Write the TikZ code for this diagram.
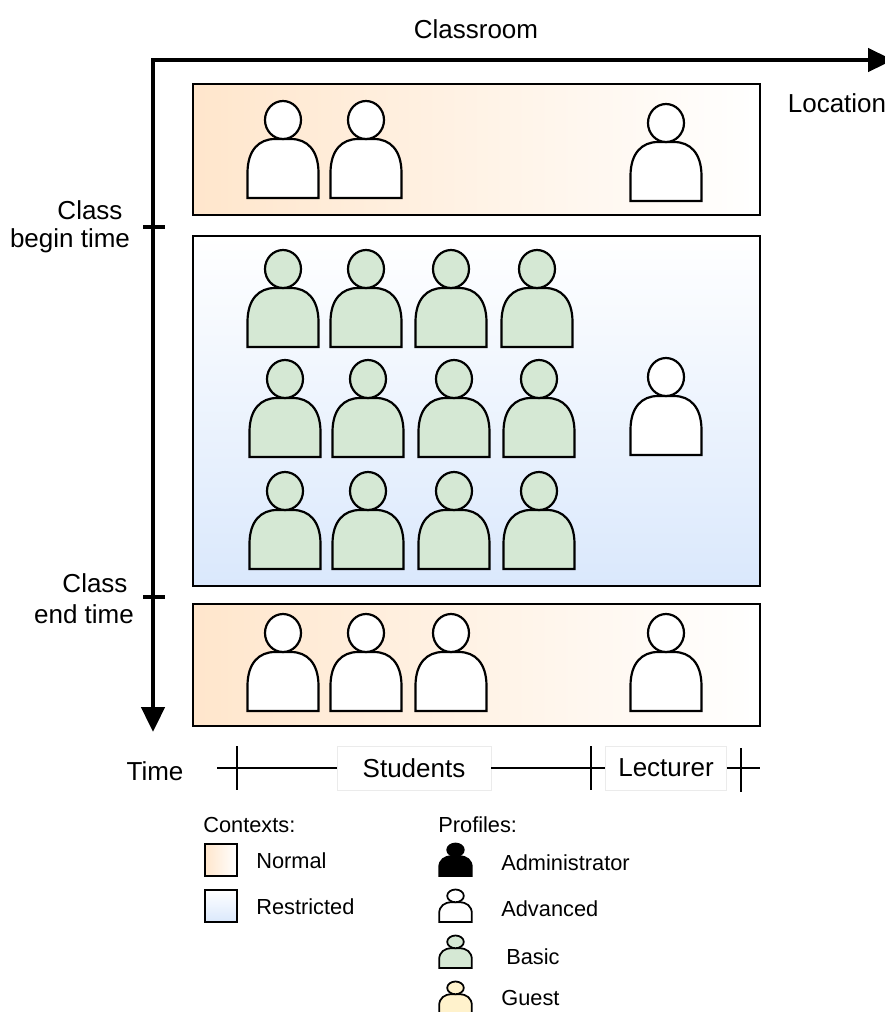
\documentclass[tikz,border=0pt]{standalone}
\usepackage{fontspec}
\setmainfont{Liberation Sans}
\usetikzlibrary{arrows.meta}
\definecolor{normalfill}{HTML}{FFE6CC}
\definecolor{restrictfill}{HTML}{DAE8FC}
\definecolor{basicfill}{HTML}{D5E8D4}
\definecolor{guestfill}{HTML}{FFF2CC}
\tikzset{
  person/.pic={
    \draw[pic actions] (-35.5,0) -- (-35.5,-25) .. controls (-35.5,-48) and (-24,-59) .. (-8,-59)
      -- (8,-59) .. controls (24,-59) and (35.5,-48) .. (35.5,-25) -- (35.5,0) -- cycle;
    \draw[pic actions] (0,-78) circle [x radius=18,y radius=19];
  },
  big/.style={font=\fontsize{14.8pt}{17pt}\selectfont},
  small/.style={font=\fontsize{12.4pt}{15pt}\selectfont},
  normalbox/.style={draw=black,line width=1.1pt,left color=normalfill,right color=white,inner sep=0pt},
  restrictbox/.style={draw=black,line width=1.1pt,top color=white,bottom color=restrictfill,inner sep=0pt}
}

\begin{document}
\begin{tikzpicture}[x=0.02cm,y=-0.02cm,person line/.style={line width=1.25pt,fill=white},key person/.style={line width=1pt,fill=white,xscale=.46,yscale=.335}]
      \useasboundingbox (0,0) rectangle (885,1012);

      \node[big] (Classroom) at (476,29) {Classroom};
      \node[big] (Location) at (837,103) {Location};
      \node[big] (Begin1) at (90,210) {Class};
      \node[big] (Begin2) at (70,241) {begin time};
      \node[big] (End1) at (95,583) {Class};
      \node[big] (End2) at (84,614) {end time};

      \node[normalbox,minimum width=11.34cm,minimum height=2.62cm] (Before) at (476.5,149.5) {};
      \node[restrictbox,minimum width=11.34cm,minimum height=7cm] (During) at (476.5,411) {};
      \node[normalbox,minimum width=11.34cm,minimum height=2.44cm] (After) at (476.5,665) {};

      \coordinate (Origin) at (153,60);
      \coordinate (LocEnd) at (893,60);
      \coordinate (TimeEnd) at (153,732);
      \coordinate (B0) at (143,227);
      \coordinate (B1) at (165,227);
      \coordinate (E0) at (143,597);
      \coordinate (E1) at (165,597);
      \draw[line width=2.65pt,{Triangle[length=.5cm,width=.46cm]}-{Triangle[length=.5cm,width=.46cm]}] (LocEnd) -- (Origin) -- (TimeEnd);
      \draw[line width=2.3pt] (B0) -- (B1);
      \draw[line width=2.3pt] (E0) -- (E1);

      \pic[person line] at (283,198) {person};
      \pic[person line] at (366,198) {person};
      \pic[person line] at (666,201) {person};

      \pic[person line,fill=basicfill] at (283,347) {person};
      \pic[person line,fill=basicfill] at (366,347) {person};
      \pic[person line,fill=basicfill] at (451,347) {person};
      \pic[person line,fill=basicfill] at (537,347) {person};
      \pic[person line,fill=basicfill] at (285,457) {person};
      \pic[person line,fill=basicfill] at (368,457) {person};
      \pic[person line,fill=basicfill] at (454,457) {person};
      \pic[person line,fill=basicfill] at (539,457) {person};
      \pic[person line,fill=basicfill] at (285,569) {person};
      \pic[person line,fill=basicfill] at (368,569) {person};
      \pic[person line,fill=basicfill] at (454,569) {person};
      \pic[person line,fill=basicfill] at (539,569) {person};
      \pic[person line] at (666,455) {person};

      \pic[person line] at (283,711) {person};
      \pic[person line] at (366,711) {person};
      \pic[person line] at (451,711) {person};
      \pic[person line] at (666,711) {person};

      \node[big] (Time) at (155,771) {Time};
      \node[big,draw=black!8,fill=white,minimum width=3.08cm,minimum height=.88cm,inner sep=0pt] (Students) at (414,768) {Students};
      \node[big,draw=black!8,fill=white,minimum width=2.42cm,minimum height=.88cm,inner sep=0pt] (Lecturer) at (666,768) {Lecturer};
      \coordinate (R0) at (217,768);
      \coordinate (R1) at (760,768);
      \coordinate (T0a) at (237,746);
      \coordinate (T0b) at (237,790);
      \coordinate (T1a) at (591,746);
      \coordinate (T1b) at (591,790);
      \coordinate (T2a) at (741,748);
      \coordinate (T2b) at (741,792);
      \draw[line width=.8pt] (R0) -- (Students.west);
      \draw[line width=.8pt] (Students.east) -- (Lecturer.west);
      \draw[line width=.8pt] (Lecturer.east) -- (R1);
      \draw[line width=.8pt] (T0a) -- (T0b);
      \draw[line width=.8pt] (T1a) -- (T1b);
      \draw[line width=.8pt] (T2a) -- (T2b);

      \node[small,anchor=west,inner sep=0pt] (Contexts) at (203,825) {Contexts:};
      \node[normalbox,minimum width=.64cm,minimum height=.64cm] (KeyNormal) at (221,860) {};
      \node[restrictbox,minimum width=.64cm,minimum height=.64cm] (KeyRestricted) at (221,906) {};
      \node[small,anchor=west,inner sep=0pt] (Normal) at (256,861) {Normal};
      \node[small,anchor=west,inner sep=0pt] (Restricted) at (256,907) {Restricted};

      \node[small,anchor=west,inner sep=0pt] (Profiles) at (438,825) {Profiles:};
      \pic[key person,fill=black] at (455.5,876) {person};
      \pic[key person] at (455.5,922) {person};
      \pic[key person,fill=basicfill] at (455.5,968) {person};
      \pic[key person,fill=guestfill] at (455.5,1014) {person};
      \node[small,anchor=west,inner sep=0pt] (Administrator) at (501,863) {Administrator};
      \node[small,anchor=west,inner sep=0pt] (Advanced) at (501,909) {Advanced};
      \node[small,anchor=west,inner sep=0pt] (Basic) at (506,957) {Basic};
      \node[small,anchor=west,inner sep=0pt] (Guest) at (501,998) {Guest};
  \end{tikzpicture}
\end{document}
